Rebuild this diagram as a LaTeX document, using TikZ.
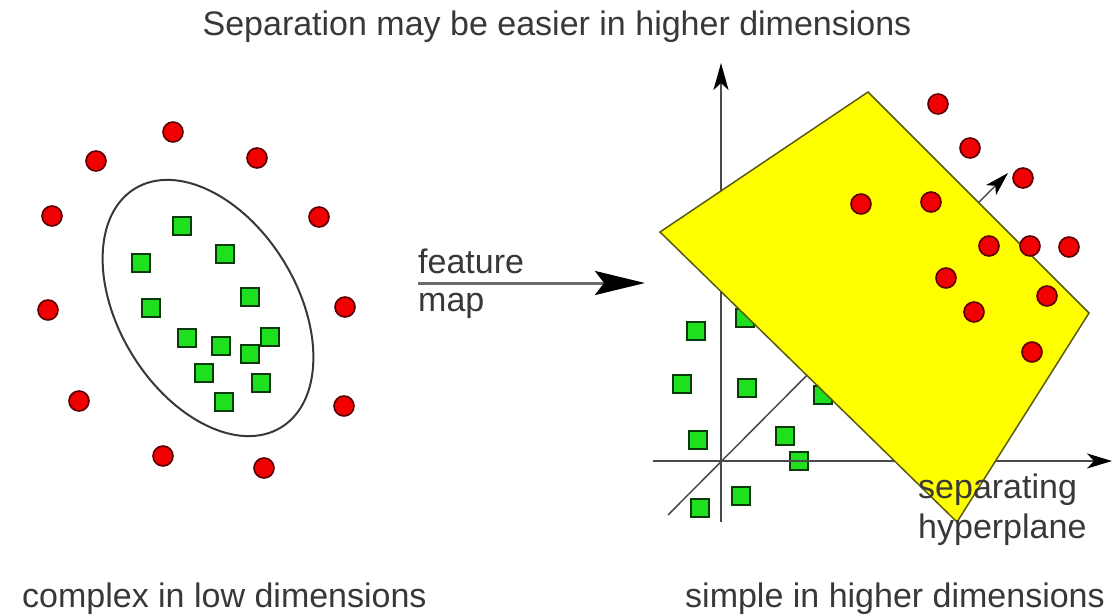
\documentclass[tikz,border=0pt]{standalone}
\usepackage{fontspec}
\setmainfont{Liberation Sans}
\usetikzlibrary{arrows.meta,shapes.geometric}
\definecolor{txtgray}{HTML}{383838}
\definecolor{dotred}{HTML}{F00000}
\definecolor{dotedge}{HTML}{5A0000}
\definecolor{sqgreen}{HTML}{1EE01E}
\definecolor{sqedge}{HTML}{0A3A0A}
\definecolor{axisgray}{HTML}{4A4A4A}
\definecolor{planefill}{HTML}{FFFF00}
\definecolor{planeedge}{HTML}{5A5A10}
\tikzset{
  lbl/.style={font=\fontsize{34}{38}\selectfont, text=txtgray, inner sep=0pt, align=left},
  redpt/.style={circle, fill=dotred, draw=dotedge, line width=1.6pt, minimum size=20pt, inner sep=0pt},
  greensq/.style={rectangle, fill=sqgreen, draw=sqedge, line width=1.6pt, minimum size=18pt, inner sep=0pt},
  axisline/.style={draw=axisgray, line width=2pt},
  planestyle/.style={fill=planefill, draw=planeedge, line width=1.5pt, line join=miter},
}
\begin{document}
\begin{tikzpicture}[x=1pt,y=-1pt]
\useasboundingbox (0,0) rectangle (1112,615);

% title
\node[lbl, anchor=base] (title) at (557,36) {Separation may be easier in higher dimensions};

% ---------- left panel ----------
\node[ellipse, draw=txtgray, line width=2pt, minimum width=280pt, minimum height=178pt, inner sep=0pt, rotate=-58.5] (cluster) at (208,308) {};
\foreach \x/\y [count=\i] in {182/226,141/263,225/254,250/297,151/308,187/338,221/346,270/337,250/354,204/373,261/383,224/402}
  \node[greensq] (ls\i) at (\x,\y) {};
\foreach \x/\y [count=\i] in {173/132,96/161,257/158,52/216,319/217,48/310,345/307,79/401,344/406,163/456,264/468}
  \node[redpt] (lr\i) at (\x,\y) {};

\node[lbl, anchor=base west] (lowlbl) at (22,607) {complex in low dimensions};

% ---------- feature map arrow ----------
\coordinate (fmS) at (418,283);
\coordinate (fmE) at (645,283);
\draw[draw=gray!85!black, line width=3pt, -{Stealth[length=50pt,width=24pt,inset=9pt,color=black]}] (fmS) -- (fmE);
\node[lbl, anchor=base west] (fmlbl) at (418,311) {feature\\map};

% ---------- right panel ----------
\foreach \x/\y [count=\i] in {696/331,745/318,682/384,747/388,823/395,698/440,785/436,799/461,741/496,700/508}
  \node[greensq] (rs\i) at (\x,\y) {};

\coordinate (yB) at (721,522);
\coordinate (yT) at (721,63);
\coordinate (xL) at (653,461);
\coordinate (xR) at (1112,461);
\coordinate (zB) at (668,515);
\coordinate (zT) at (1008,173);
\draw[axisline, -{Stealth[length=27pt,width=15pt,inset=7pt,color=black]}] (yB) -- (yT);
\draw[axisline, -{Stealth[length=25pt,width=15pt,inset=7pt,color=black]}] (xL) -- (xR);
\draw[axisline, line width=1.5pt, -{Stealth[length=24pt,width=14pt,inset=6pt,color=black]}] (zB) -- (zT);

\coordinate (pL) at (660,232);
\coordinate (pT) at (868,92);
\coordinate (pR) at (1089,313);
\coordinate (pB) at (957,522);
\path[planestyle] (pL) -- (pT) -- (pR) -- (pB) -- cycle;

\foreach \x/\y [count=\i] in {938/104,970/148,1023/178,861/204,931/202,989/246,1030/246,1069/247,946/278,1047/296,974/312,1032/352}
  \node[redpt] (rr\i) at (\x,\y) {};

\node[lbl, anchor=base west, font=\fontsize{34}{40}\selectfont] (hyplbl) at (918,538) {separating\\hyperplane};
\node[lbl, anchor=base west] (highlbl) at (685,607) {simple in higher dimensions};
\end{tikzpicture}
\end{document}
